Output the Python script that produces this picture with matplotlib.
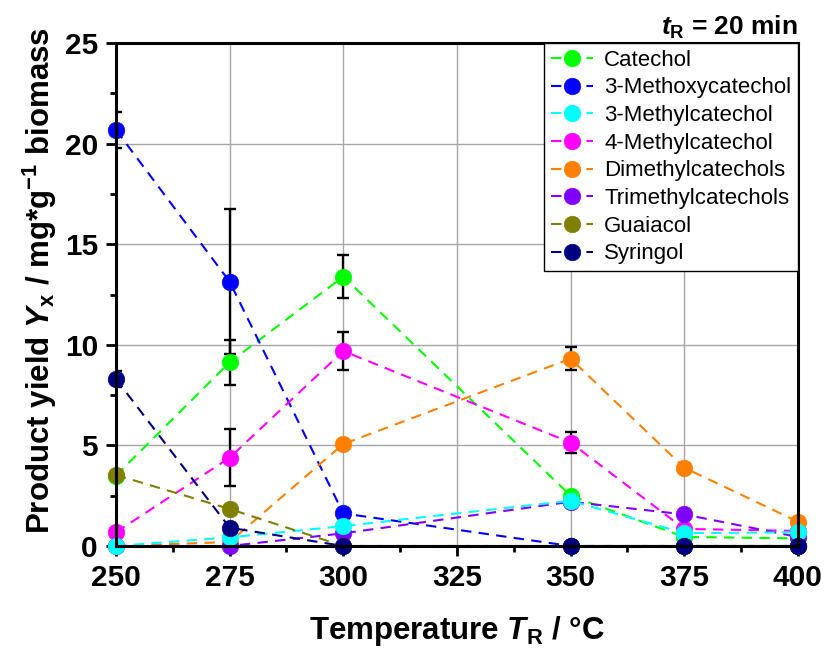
import matplotlib
matplotlib.use("Agg")
import matplotlib.pyplot as plt
import numpy as np

# ----------------------------------------------------------- #
#                         Data                                #
# ----------------------------------------------------------- #
temperature = [250, 275, 300, 350, 375, 400]                                   # Reaction temperature (°C)

catechol        = [3.5, 9.13, 13.39, 2.5, 0.45, 0.38]
methoxycatechol = [20.68, 13.14, 1.62, 0.0, 0.0, 0.0]
methylcatechol3 = [0.0, 0.43, 0.99, 2.25, 0.64, 0.68]
methylcatechol4 = [0.68, 4.39, 9.69, 5.14, 0.85, 0.75]
dimethylcat     = [0.0, 0.2, 5.07, 9.31, 3.89, 1.21]
trimethylcat    = [0.0, 0.0, 0.63, 2.2, 1.57, 0.45]
guaiacol        = [3.53, 1.84, 0.0, 0.0, 0.0, 0.0]
syringol        = [8.3, 0.91, 0.0, 0.0, 0.0, 0.0]

# Standard deviations (0 = no visible error bar)
err_catechol        = [0, 1.13, 1.06, 0, 0, 0]
err_methoxycatechol = [0.9, 3.62, 0, 0, 0, 0]
err_methylcatechol4 = [0, 1.43, 0.95, 0.54, 0, 0]
err_dimethylcat     = [0, 0, 0, 0.56, 0, 0]
err_syringol        = [0.4, 0, 0, 0, 0, 0]
err_none            = [0, 0, 0, 0, 0, 0]

names = ["Catechol", "3-Methoxycatechol", "3-Methylcatechol", "4-Methylcatechol",
         "Dimethylcatechols", "Trimethylcatechols", "Guaiacol", "Syringol"]
values = [catechol, methoxycatechol, methylcatechol3, methylcatechol4,
          dimethylcat, trimethylcat, guaiacol, syringol]
errors = [err_catechol, err_methoxycatechol, err_none, err_methylcatechol4,
          err_dimethylcat, err_none, err_none, err_syringol]
colors = ["#00ff00", "#0000ff", "#00ffff", "#ff00ff",
          "#ff8000", "#8000ff", "#808000", "#000080"]
draw_order = [0, 1, 3, 4, 5, 2, 6, 7]                                           # last one lies on top

# ----------------------------------------------------------- #
#                         Style                               #
# ----------------------------------------------------------- #
plt.rcParams['font.family'] = ['Liberation Sans', 'DejaVu Sans']
plt.rcParams['mathtext.fontset'] = 'custom'
plt.rcParams['mathtext.rm'] = 'Liberation Sans:bold'
plt.rcParams['mathtext.it'] = 'Liberation Sans:italic:bold'
plt.rcParams['mathtext.bf'] = 'Liberation Sans:bold'

fig = plt.figure(figsize=(8.26, 6.49), dpi=100)
ax = fig.add_axes([0.1404, 0.1587, 0.8256, 0.775])

handles = {}
for n, k in enumerate(draw_order):
    x = np.array(temperature, dtype=float)
    y = np.array(values[k], dtype=float)
    e = np.array(errors[k], dtype=float)
    m = e > 0
    if m.any():
        ax.errorbar(x[m], y[m], yerr=e[m], fmt='none', ecolor='black',
                    elinewidth=1.7, capsize=4.5, capthick=1.7, zorder=2 + n * 0.1)
    h, = ax.plot(x, y, linestyle=(0, (5, 3.5)), linewidth=1.5, color=colors[k],
                 marker='o', markersize=12, markeredgewidth=0.4,
                 markeredgecolor=colors[k], zorder=3 + n * 0.1,
                 clip_on=False, label=names[k])
    handles[k] = h

# ----------------------------------------------------------- #
#                         Axes                                #
# ----------------------------------------------------------- #
ax.set_xlim(250, 400)
ax.set_ylim(0, 25)
ax.set_xticks(np.arange(250, 401, 25))
ax.set_xticks(np.arange(262.5, 400, 25), minor=True)
ax.set_yticks(np.arange(0, 26, 5))
ax.set_yticks(np.arange(2.5, 25, 5), minor=True)
ax.grid(True, which='major', color='#a6a6a6', linewidth=1.0, zorder=0)
ax.set_axisbelow(True)

for s in ax.spines.values():
    s.set_linewidth(2.2)
    s.set_zorder(5)
ax.tick_params(which='major', direction='out', length=7, width=2, labelsize=21.5, pad=6)
ax.tick_params(which='minor', direction='out', length=4, width=2)
for lab in ax.get_xticklabels() + ax.get_yticklabels():
    lab.set_fontweight('bold')

ax.set_xlabel(r"Temperature $\mathit{T}_\mathrm{R}$ / °C", fontsize=22.5, fontweight='bold', labelpad=16)
ax.set_ylabel(r"Product yield $\mathit{Y}_\mathrm{x}$ / mg*g$^\mathrm{-1}$ biomass", fontsize=22.5, fontweight='bold')
ax.yaxis.set_label_coords(-0.084, 0.527)

ax.set_title(r"$\mathit{t}_\mathrm{R}$ = 20 min", loc='right', fontsize=19, fontweight='bold', pad=6)

leg = ax.legend([handles[k] for k in range(8)], names, loc='upper right', borderaxespad=0,
                fontsize=16, fancybox=False, edgecolor='black', framealpha=1,
                handlelength=1.9, labelspacing=0.3, borderpad=0.3, handletextpad=0.5)
leg.get_frame().set_linewidth(1.0)
leg.set_zorder(10)

fig.savefig('out.png', dpi=100)
